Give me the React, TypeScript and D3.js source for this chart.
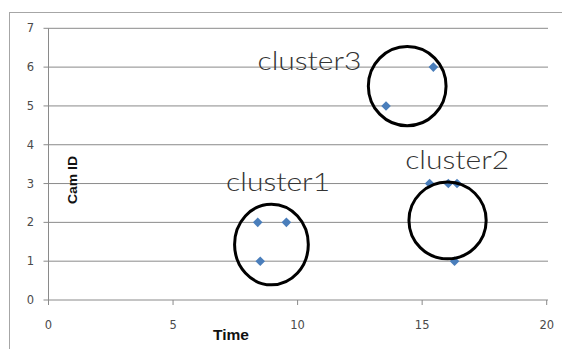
import React from "react";
import * as d3 from "d3";

const timeValues = [8.4, 9.55, 8.5, 15.3, 16.05, 16.4, 16.3, 13.55, 15.45];
const camValues = [2, 2, 1, 3, 3, 3, 1, 5, 6];

const clusterNames = ["cluster1", "cluster2", "cluster3"];
const clusterCx = [8.95, 16.02, 14.4];
const clusterCy = [1.43, 2.05, 5.51];
const clusterRx = [1.48, 1.55, 1.56];
const clusterRy = [1.04, 0.99, 1.02];
const labelX = [7.13, 14.32, 8.39];
const labelY = [2.8, 3.38, 5.93];

const xTicks = [0, 5, 10, 15, 20];
const yTicks = [0, 1, 2, 3, 4, 5, 6, 7];

export default function App() {
  const W = 562, H = 349;
  const x = d3.scaleLinear().domain([0, 20]).range([48.5, 546.7]);
  const y = d3.scaleLinear().domain([0, 7]).range([300, 28.3]);
  const grid = "#8a8a8a";
  const diamond = (cx: number, cy: number) => {
    const r = 4.8;
    return `M${cx},${cy - r}L${cx + r},${cy}L${cx},${cy + r}L${cx - r},${cy}Z`;
  };
  return (
    <svg width={W} height={H} style={{ position: "absolute", left: 0, top: 0, background: "#fff" }}>
      <rect x={9.5} y={12.5} width={600} height={400} fill="#fff" stroke="#a6a6a6" strokeWidth={1} />
      {yTicks.map((t) => (
        <g key={"y" + t}>
          <line x1={x(0) - 5} x2={548} y1={y(t)} y2={y(t)} stroke={grid} strokeWidth={1} />
          <text x={34} y={y(t) + 4} textAnchor="end" fontSize={11.5} fontFamily="'DejaVu Sans', sans-serif" fill="#4a4a4a">{t}</text>
        </g>
      ))}
      <line x1={x(0)} x2={x(0)} y1={y(7)} y2={y(0)} stroke={grid} strokeWidth={1} />
      {xTicks.map((t) => (
        <g key={"x" + t}>
          <line x1={x(t)} x2={x(t)} y1={y(0)} y2={y(0) + 5} stroke={grid} strokeWidth={1} />
          <text x={x(t)} y={329} textAnchor="middle" fontSize={11.5} fontFamily="'DejaVu Sans', sans-serif" fill="#4a4a4a">{t}</text>
        </g>
      ))}
      <text x={231} y={339.5} textAnchor="middle" fontSize={15} fontWeight="bold" fontFamily="'Liberation Sans', Arial, sans-serif" fill="#111" textLength={36} lengthAdjust="spacingAndGlyphs">Time</text>
      <text transform={`translate(76.5,180) rotate(-90)`} textAnchor="middle" fontSize={13} fontWeight="bold" fontFamily="'Liberation Sans', Arial, sans-serif" fill="#111" textLength={48} lengthAdjust="spacingAndGlyphs">Cam ID</text>
      {timeValues.map((t, i) => (
        <path key={"p" + i} d={diamond(x(t), y(camValues[i]))} fill="#4a7ebb" />
      ))}
      {clusterNames.map((n, i) => (
        <g key={n}>
          <ellipse
            cx={x(clusterCx[i])}
            cy={y(clusterCy[i])}
            rx={x(clusterRx[i]) - x(0)}
            ry={y(0) - y(clusterRy[i])}
            fill="none"
            stroke="#000"
            strokeWidth={3}
          />
          <text x={x(labelX[i])} y={y(labelY[i])} fontSize={25} fontFamily="Lato, 'DejaVu Sans', sans-serif" fontWeight={300} fill="#333" textLength={104} lengthAdjust="spacingAndGlyphs">{n}</text>
        </g>
      ))}
    </svg>
  );
}
